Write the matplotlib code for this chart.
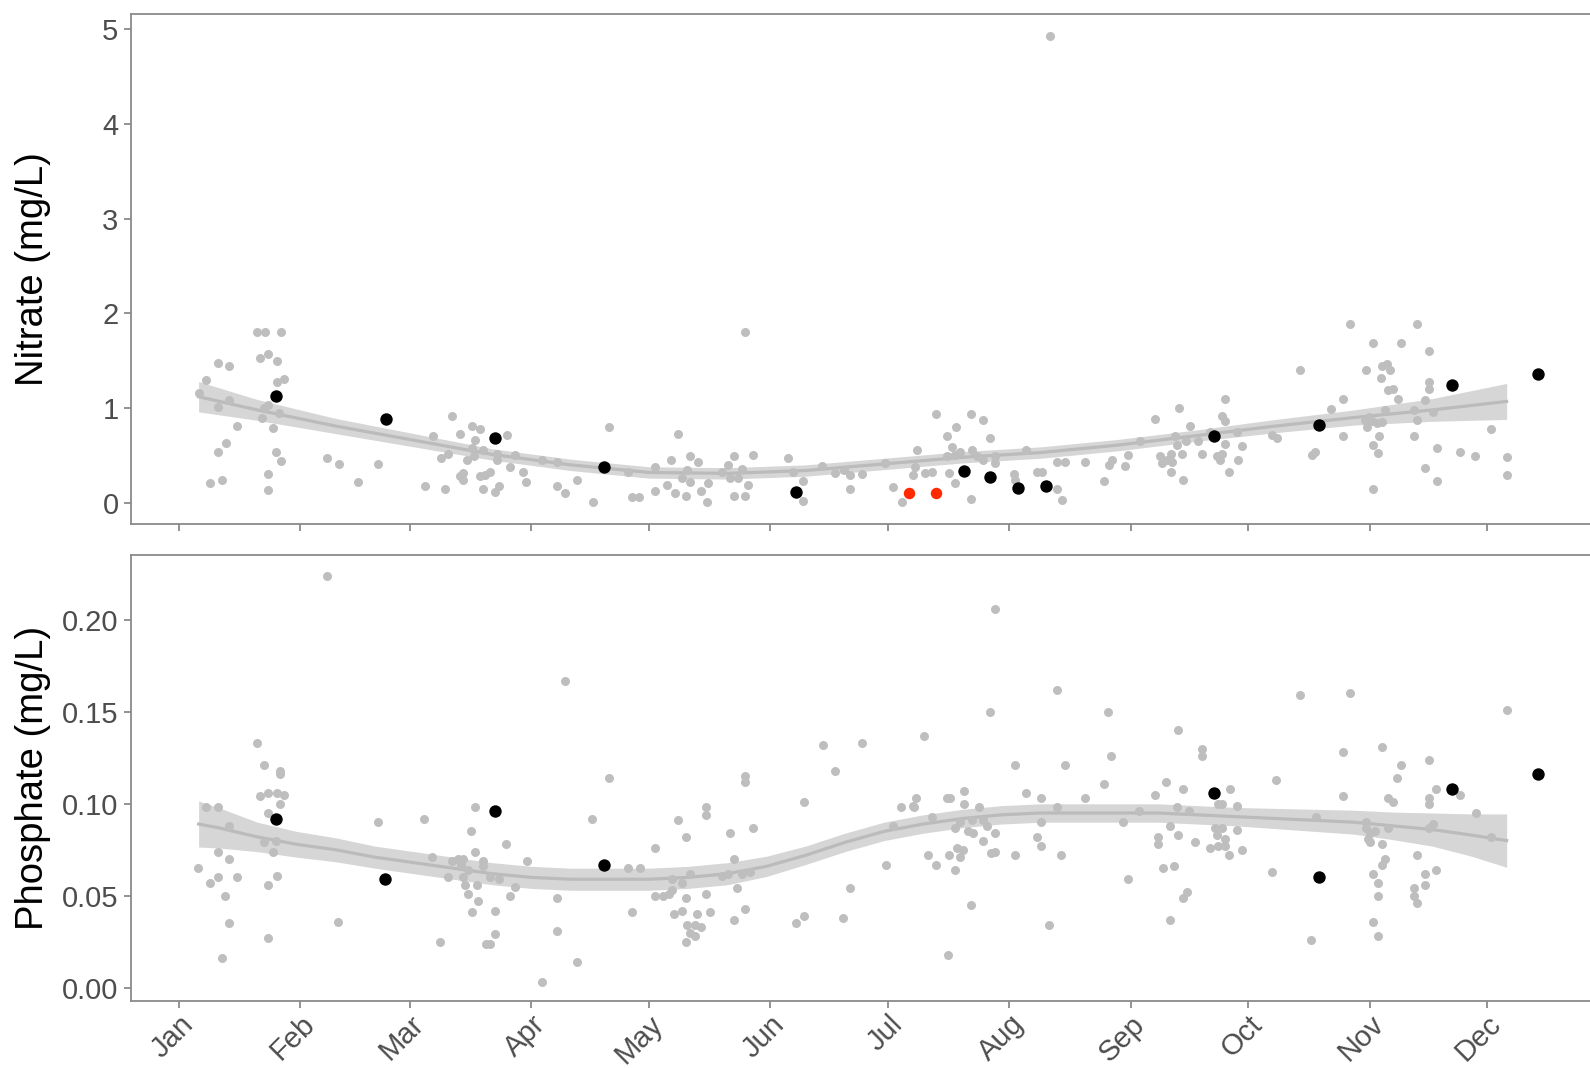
import numpy as np
import matplotlib
matplotlib.use('Agg')
import matplotlib.pyplot as plt

plt.rcParams['font.family'] = ['Liberation Sans', 'DejaVu Sans']

month_start = [0, 31, 59, 90, 120, 151, 181, 212, 243, 273, 304, 334]
month_label = ['Jan', 'Feb', 'Mar', 'Apr', 'May', 'Jun', 'Jul', 'Aug', 'Sep', 'Oct', 'Nov', 'Dec']

#
# Nitrate, day of year and mg/L
#
nit_day = [5.0, 6.9, 9.9, 12.8, 9.9, 12.8, 14.9, 12.0, 9.9, 7.8, 10.9, 19.9, 22.0, 26.0, 20.7, 22.8, 25.0, 25.0, 26.8,
           21.6, 22.8, 25.4, 21.2, 24.0, 24.8, 26.0, 22.8, 22.8, 37.9, 40.9, 45.8, 50.9, 64.8, 69.6, 71.8, 74.8, 76.8,
           75.5, 74.8, 77.7, 83.7, 66.8, 68.8, 73.5, 75.2, 81.2, 81.2, 85.8, 84.5, 72.6, 72.6, 71.8, 76.8, 79.4, 78.1,
           62.9, 67.8, 77.7, 80.7, 81.8, 87.8, 88.6, 92.7, 96.6, 96.6, 98.6, 101.5, 105.6, 109.7, 114.7, 115.6, 117.5,
           121.5, 121.5, 124.6, 126.7, 129.5, 125.6, 130.5, 132.6, 129.6, 128.4, 130.5, 133.4, 134.7, 135.1, 127.5,
           141.6, 140.3, 138.6, 140.7, 142.8, 143.7, 145.4, 141.6, 144.5, 146.6, 144.5, 155.5, 156.7, 159.4, 159.4,
           164.3, 167.6, 169.7, 171.4, 174.3, 171.4, 180.2, 182.4, 184.6, 188.4, 187.9, 187.5, 190.5, 192.2, 193.3,
           196.2, 198.4, 197.4, 196.1, 198.2, 199.5, 196.5, 198.2, 202.2, 205.2, 207.2, 202.4, 203.7, 205.4, 208.3,
           208.3, 202.2, 213.3, 213.5, 216.3, 219.0, 220.3, 224.1, 226.3, 224.3, 225.4, 231.4, 222.4,
           236.3, 237.4, 238.3, 241.5, 242.3, 245.4, 249.3, 250.5, 250.9, 252.2, 253.2, 253.6, 254.4, 254.8, 256.1,
           257.0, 253.4, 256.3, 255.3, 258.2, 261.2, 260.3, 263.3, 265.0, 265.8, 266.3, 267.1, 266.3, 267.1, 267.1,
           268.1, 270.4, 271.3, 270.2, 279.0, 280.3, 286.3, 289.3, 290.1, 294.1, 297.2, 297.2, 299.1, 303.1, 305.0,
           307.1, 308.4, 309.2, 307.0, 308.8, 310.1, 311.2, 308.0, 302.9, 303.8, 304.6, 305.9, 307.1, 303.3, 306.3,
           305.0, 306.1, 305.0, 312.0, 316.1, 319.1, 319.1, 319.1, 318.1, 315.3, 316.1, 320.3, 315.3, 321.2, 318.1,
           321.2, 327.2, 331.0, 335.1, 339.0, 339.0]
nit_val = [1.16, 1.30, 1.48, 1.44, 1.01, 1.09, 0.81, 0.63, 0.54, 0.21, 0.24, 1.80, 1.80, 1.80, 1.53, 1.57, 1.50, 1.28, 1.31,
           1.00, 1.03, 0.95, 0.89, 0.79, 0.54, 0.44, 0.30, 0.13, 0.47, 0.41, 0.22, 0.41, 0.71, 0.92, 0.73, 0.81, 0.78,
           0.66, 0.58, 0.56, 0.72, 0.47, 0.52, 0.45, 0.49, 0.52, 0.45, 0.50, 0.38, 0.31, 0.24, 0.28, 0.28, 0.32, 0.29,
           0.18, 0.14, 0.14, 0.11, 0.18, 0.33, 0.22, 0.45, 0.43, 0.18, 0.10, 0.24, 0.01, 0.80, 0.33, 0.06, 0.06,
           0.38, 0.12, 0.19, 0.10, 0.07, 0.45, 0.49, 0.43, 0.35, 0.26, 0.22, 0.12, 0.01, 0.21, 0.73,
           0.49, 0.40, 0.33, 0.26, 0.26, 0.36, 0.19, 0.07, 0.07, 0.50, 1.80, 0.47, 0.33, 0.23, 0.02,
           0.39, 0.31, 0.35, 0.29, 0.30, 0.15, 0.42, 0.17, 0.01, 0.56, 0.38, 0.29, 0.31, 0.33, 0.94,
           0.70, 0.80, 0.59, 0.49, 0.50, 0.54, 0.31, 0.21, 0.94, 0.87, 0.68, 0.56, 0.49, 0.45, 0.49,
           0.42, 0.04, 0.30, 0.24, 0.56, 0.32, 0.32, 0.43, 0.43, 0.14, 0.03, 0.43, 4.93,
           0.23, 0.40, 0.45, 0.39, 0.50, 0.65, 0.88, 0.49, 0.42, 0.45, 0.52, 0.43, 0.70, 0.61, 0.52,
           0.65, 0.32, 0.24, 1.00, 0.81, 0.52, 0.65, 0.75, 0.49, 0.45, 0.52, 0.62, 0.92, 0.86, 1.10,
           0.32, 0.45, 0.60, 0.75, 0.72, 0.68, 1.40, 0.50, 0.54, 0.99, 1.10, 0.70, 1.89, 1.40, 1.69,
           1.44, 1.47, 1.40, 1.32, 1.19, 1.20, 1.10, 0.98, 0.87, 0.91, 0.86, 0.84, 0.85, 0.80, 0.70,
           0.61, 0.53, 0.15, 1.69, 1.89, 1.60, 1.28, 1.20, 1.09, 0.98, 0.87, 0.96, 0.71, 0.58, 0.37,
           0.23, 0.54, 0.49, 0.78, 0.48, 0.29]

nit_cur_day = [24.8, 52.8, 80.7, 108.6, 157.6, 200.5, 207.2, 214.3, 221.3, 264.3, 291.2, 325.0, 347.0]
nit_cur_val = [1.13, 0.88, 0.68, 0.38, 0.11, 0.34, 0.27, 0.16, 0.18, 0.71, 0.82, 1.24, 1.36]
nit_low_day = [186.5, 193.3]
nit_low_val = [0.10, 0.10]

nit_fit_day = [5, 20, 40, 60, 80, 100, 120, 140, 160, 180, 200, 220, 240, 260, 280, 300, 320, 339]
nit_fit = [1.12, 0.98, 0.81, 0.66, 0.51, 0.40, 0.32, 0.31, 0.34, 0.41, 0.48, 0.53, 0.61, 0.71, 0.81, 0.90, 0.98, 1.07]
nit_se = [0.16, 0.11, 0.08, 0.07, 0.06, 0.06, 0.06, 0.06, 0.06, 0.06, 0.06, 0.06, 0.06, 0.06, 0.07, 0.08, 0.12, 0.19]

#
# Phosphate
#
pho_day = [37.7, 19.9, 21.8, 25.8, 25.8, 20.7, 22.8, 24.9, 26.9, 25.8, 22.8, 6.8, 9.9, 12.8, 9.9, 12.8, 4.8, 7.8, 9.9,
           14.9, 11.7, 12.8, 10.9, 21.8, 23.9, 24.8, 24.9, 22.8, 22.8, 40.7, 50.8, 62.6, 64.7, 75.6, 74.5, 75.6, 83.6,
           69.6, 71.3, 72.6, 72.0, 73.9, 77.7, 77.7, 68.8, 72.6, 73.0, 73.7, 76.0, 79.4, 81.6, 76.4, 74.7, 80.7, 84.5,
           85.8, 66.7, 80.7, 79.3, 78.5,
           88.8, 96.6, 96.6, 98.6, 101.5, 92.6, 105.5, 109.7, 114.7, 117.7, 115.6, 121.5, 127.5, 129.5, 134.5, 134.5,
           140.6, 144.4, 144.4, 146.5, 141.6, 125.8, 128.4, 130.5, 121.5, 123.7, 125.0, 125.8, 129.5, 134.5, 126.5,
           128.4, 132.2, 135.5, 129.6, 131.7, 133.4, 130.5, 131.7, 129.5, 138.6, 140.3, 143.7, 145.8, 142.4, 144.5,
           141.6, 157.5, 159.5, 169.5, 171.4, 159.5, 164.5, 167.4,
           174.5, 190.3, 180.4, 182.4, 184.4, 187.7, 188.3, 187.5, 192.3, 196.9, 196.0, 200.4, 200.4, 204.3, 198.2,
           199.4, 201.5, 202.8, 205.4, 206.2, 202.4, 205.4, 208.3, 198.6, 200.3, 199.4, 196.5, 191.3, 193.3, 198.2,
           207.3, 208.3, 202.2, 196.3, 207.1, 208.3, 213.5, 213.5, 216.3, 220.2, 220.2, 219.2, 220.2, 224.3, 226.2,
           224.3, 225.3, 222.2, 231.3, 237.2, 238.1, 236.2, 241.0, 242.2, 245.1, 249.2, 252.1, 255.1, 256.3, 253.0,
           255.1, 254.9, 258.0, 259.3, 250.0, 250.0, 251.3, 254.1, 257.3, 256.3, 253.0,
           261.2, 261.2, 268.3, 265.4, 266.3, 270.2, 264.6, 266.3, 270.2, 265.0, 267.1, 263.3, 265.4, 267.1, 271.3,
           268.1, 280.1, 279.2, 286.2, 299.1, 289.1, 290.3, 297.1, 297.1, 303.2, 303.2, 304.2, 303.6, 304.2, 305.4,
           308.8, 307.1, 307.1, 312.1, 310.9, 308.8, 310.1, 308.0, 307.1, 305.0, 306.1, 306.1, 305.0, 306.1, 319.1,
           320.9, 319.1, 319.1, 320.1, 319.1, 316.1, 318.1, 320.9, 318.1, 315.3, 315.3, 316.1, 327.2, 331.2, 335.1,
           339.0]
pho_val = [0.224, 0.133, 0.121, 0.118, 0.116, 0.104, 0.106, 0.106, 0.105, 0.100, 0.095, 0.098, 0.098, 0.088, 0.074,
           0.070, 0.065, 0.057, 0.060, 0.060, 0.050, 0.035, 0.016, 0.079, 0.074, 0.080, 0.061, 0.056, 0.027, 0.036,
           0.090, 0.092, 0.071, 0.098, 0.085, 0.074, 0.078, 0.069, 0.070, 0.070, 0.067, 0.064, 0.069, 0.066, 0.060,
           0.060, 0.056, 0.051, 0.056, 0.060, 0.059, 0.047, 0.041, 0.042, 0.050, 0.055, 0.025, 0.029, 0.024, 0.024,
           0.069, 0.049, 0.031, 0.167, 0.014, 0.003, 0.092, 0.114, 0.065, 0.065, 0.041, 0.076, 0.091, 0.082, 0.098,
           0.094, 0.084, 0.115, 0.112, 0.087, 0.070, 0.059, 0.057, 0.062, 0.050, 0.050, 0.051, 0.053, 0.049, 0.051,
           0.040, 0.042, 0.040, 0.041, 0.034, 0.034, 0.033, 0.030, 0.028, 0.025, 0.061, 0.062, 0.062, 0.063, 0.054,
           0.043, 0.037, 0.035, 0.039, 0.038, 0.054, 0.101, 0.132, 0.118,
           0.133, 0.137, 0.067, 0.088, 0.098, 0.098, 0.103, 0.099, 0.093, 0.103, 0.103, 0.107, 0.100, 0.098, 0.087,
           0.090, 0.085, 0.084, 0.080, 0.088, 0.091, 0.091, 0.084, 0.076, 0.075, 0.071, 0.072, 0.072, 0.067, 0.064,
           0.073, 0.074, 0.045, 0.018, 0.150, 0.206, 0.121, 0.072, 0.106, 0.103, 0.090, 0.082, 0.077, 0.162, 0.121,
           0.098, 0.072, 0.034, 0.103, 0.150, 0.126, 0.111, 0.090, 0.059, 0.096, 0.105, 0.112, 0.140, 0.108, 0.088,
           0.083, 0.098, 0.096, 0.079, 0.082, 0.078, 0.065, 0.066, 0.052, 0.049, 0.037,
           0.130, 0.126, 0.108, 0.100, 0.100, 0.099, 0.087, 0.087, 0.086, 0.083, 0.081, 0.076, 0.077, 0.077, 0.075,
           0.072, 0.113, 0.063, 0.159, 0.160, 0.026, 0.093, 0.128, 0.104, 0.090, 0.087, 0.084, 0.081, 0.079, 0.085,
           0.087, 0.078, 0.131, 0.121, 0.114, 0.103, 0.101, 0.070, 0.067, 0.062, 0.057, 0.050, 0.036, 0.028, 0.124,
           0.108, 0.103, 0.100, 0.089, 0.087, 0.072, 0.062, 0.064, 0.056, 0.054, 0.050, 0.046, 0.105, 0.095, 0.082,
           0.151]

pho_cur_day = [24.8, 52.6, 80.7, 108.6, 264.3, 291.1, 325.0, 347.0]
pho_cur_val = [0.092, 0.059, 0.096, 0.067, 0.106, 0.060, 0.108, 0.116]

pho_fit_day = [5, 10, 20, 30, 40, 50, 60, 70, 80, 90, 100, 110, 120, 130, 140, 150, 160, 170, 180, 190, 200,
               210, 220, 230, 240, 250, 260, 270, 280, 290, 300, 310, 320, 330, 339]
pho_fit = [0.089, 0.087, 0.082, 0.078, 0.075, 0.071, 0.068, 0.065, 0.062, 0.060, 0.059, 0.059, 0.059, 0.060, 0.062,
           0.066, 0.072, 0.079, 0.085, 0.089, 0.092, 0.094, 0.095, 0.095, 0.095, 0.095, 0.094, 0.093, 0.092, 0.091,
           0.090, 0.088, 0.086, 0.083, 0.080]
pho_se = [0.0125, 0.011, 0.008, 0.007, 0.0065, 0.006, 0.006, 0.006, 0.006, 0.006, 0.006, 0.006, 0.006, 0.006, 0.006,
          0.0055, 0.005, 0.005, 0.005, 0.005, 0.005, 0.005, 0.005, 0.005, 0.005, 0.005, 0.005, 0.005, 0.0055, 0.006,
          0.0065, 0.0075, 0.009, 0.0115, 0.0145]

grey_pt = '#BEBEBE'
frame_col = '#8A8A8A'
text_col = '#4D4D4D'

fig = plt.figure(figsize=(15.9, 10.68), dpi=100)
ax1 = fig.add_axes([0.0824, 0.5094, 0.9270, 0.4777])
ax2 = fig.add_axes([0.0824, 0.0627, 0.9270, 0.4176])

panels = [
    (ax1, nit_day, nit_val, nit_cur_day, nit_cur_val, nit_fit_day, nit_fit, nit_se, 'Nitrate (mg/L)'),
    (ax2, pho_day, pho_val, pho_cur_day, pho_cur_val, pho_fit_day, pho_fit, pho_se, 'Phosphate (mg/L)'),
]

for ax, gd, gv, cd, cv, fd, fv, se, label in panels:
    fv = np.array(fv)
    se = np.array(se)
    ax.fill_between(fd, fv - se, fv + se, color='#D6D6D6', lw=0, zorder=1)
    ax.plot(fd, fv, color='#BBBBBB', lw=2.3, zorder=2)
    ax.scatter(gd, gv, s=42, color=grey_pt, lw=0, zorder=3)
    ax.scatter(cd, cv, s=80, color='black', lw=0, zorder=4)

    ax.set_xlim(-12.26, 364.1)
    ax.set_xticks(month_start)
    for sp in ax.spines.values():
        sp.set_color(frame_col)
        sp.set_linewidth(1.3)
    ax.tick_params(colors=frame_col, labelcolor=text_col, labelsize=21, length=5, width=1.3, pad=4)
    ax.set_ylabel(label, fontsize=27.5, color='black')

ax1.scatter(nit_low_day, nit_low_val, s=68, color='#FF2A00', lw=0, zorder=5)

ax1.set_ylim(-0.224, 5.164)
ax1.set_yticks([0, 1, 2, 3, 4, 5])
ax1.set_xticklabels([])
ax1.yaxis.set_label_coords(0.032, 0.748, transform=fig.transFigure)

ax2.set_ylim(-0.0072, 0.2352)
ax2.set_yticks([0.00, 0.05, 0.10, 0.15, 0.20])
ax2.set_yticklabels(['%.2f' % v for v in [0.00, 0.05, 0.10, 0.15, 0.20]])
ax2.set_xticklabels(month_label, rotation=45, ha='right', va='top', rotation_mode='anchor')
ax2.tick_params(axis='x', pad=1.5)
ax2.yaxis.set_label_coords(0.032, 0.2715, transform=fig.transFigure)

fig.savefig('out.png', dpi=100)
